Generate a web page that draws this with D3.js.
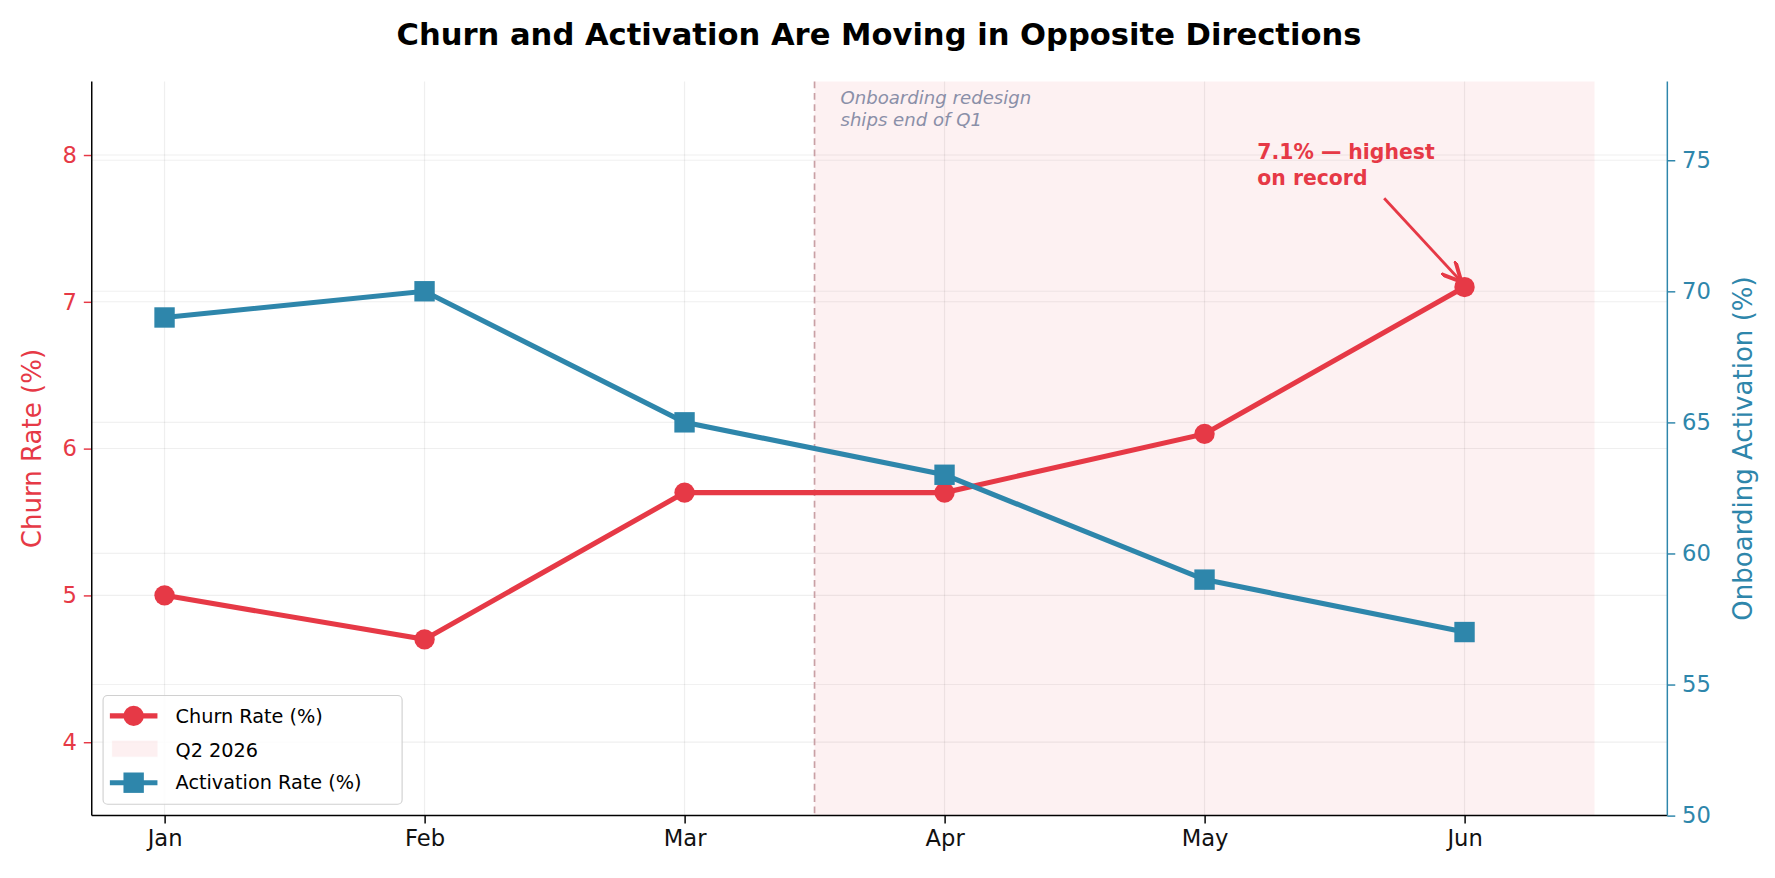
<!DOCTYPE html><html><head><meta charset="utf-8"><script src="https://cdn.jsdelivr.net/npm/d3@7"></script>
<style>body{margin:0;background:#fff;overflow:hidden}text{font-family:"DejaVu Sans",sans-serif}</style></head><body><svg id="c" width="1775" height="878"></svg>
<script>
const months=["Jan","Feb","Mar","Apr","May","Jun"];
const churn=[5.0,4.7,5.7,5.7,6.1,7.1];
const activation=[69,70,65,63,59,57];
const leftTicks=[4,5,6,7,8];
const rightTicks=[50,55,60,65,70,75];
const RED="#e63946",BLUE="#2e86ab";
const svg=d3.select("#c").append("g").attr("transform","scale(1.1327)");
const L=81,R=1472,T=72,B=720;
const x=d3.scaleLinear().domain([-0.28,5.78]).range([L,R]);
const yl=d3.scaleLinear().domain([3.5,8.5]).range([B,T]);
const yr=d3.scaleLinear().domain([50,78]).range([B,T]);
svg.append("rect").attr("x",x(2.5)).attr("y",T).attr("width",x(5.5)-x(2.5)).attr("height",B-T).attr("fill",RED).attr("opacity",0.07);
months.forEach((m,i)=>svg.append("line").attr("x1",x(i)).attr("x2",x(i)).attr("y1",T).attr("y2",B).attr("stroke","#000").attr("opacity",0.06));
leftTicks.forEach(v=>svg.append("line").attr("x1",L).attr("x2",R).attr("y1",yl(v)).attr("y2",yl(v)).attr("stroke","#000").attr("opacity",0.06));
rightTicks.forEach(v=>svg.append("line").attr("x1",L).attr("x2",R).attr("y1",yr(v)).attr("y2",yr(v)).attr("stroke","#000").attr("opacity",0.05));
svg.append("line").attr("x1",x(2.5)).attr("x2",x(2.5)).attr("y1",T).attr("y2",B).attr("stroke","#c9a0a5").attr("stroke-width",1.5).attr("stroke-dasharray","6,4");
const ax=svg.append("g").attr("transform",`translate(0,${B})`).call(d3.axisBottom(x).tickValues(d3.range(6)).tickFormat(i=>months[i]).tickSize(7).tickPadding(6));
const al=svg.append("g").attr("transform",`translate(${L},0)`).call(d3.axisLeft(yl).tickValues(leftTicks).tickFormat(d3.format("d")).tickSize(7).tickPadding(6));
const ar=svg.append("g").attr("transform",`translate(${R},0)`).call(d3.axisRight(yr).tickValues(rightTicks).tickFormat(d3.format("d")).tickSize(7).tickPadding(6));
[ax,al,ar].forEach(a=>{a.select(".domain").remove();a.selectAll("text").attr("font-size",20);a.selectAll("line").attr("stroke-width",1.3)});
al.selectAll("text").attr("fill",RED);al.selectAll("line").attr("stroke",RED);
ar.selectAll("text").attr("fill",BLUE);ar.selectAll("line").attr("stroke",BLUE);
ax.selectAll("text").attr("fill","#111");
svg.append("line").attr("x1",L).attr("x2",L).attr("y1",T).attr("y2",B).attr("stroke","#000").attr("stroke-width",1.3);
svg.append("line").attr("x1",L).attr("x2",R).attr("y1",B).attr("y2",B).attr("stroke","#000").attr("stroke-width",1.3);
svg.append("line").attr("x1",R).attr("x2",R).attr("y1",T).attr("y2",B).attr("stroke",BLUE).attr("stroke-width",1.3);
svg.append("path").attr("d",d3.line().x((d,i)=>x(i)).y(d=>yl(d))(churn)).attr("fill","none").attr("stroke",RED).attr("stroke-width",4.5);
svg.selectAll(".cp").data(churn).enter().append("circle").attr("cx",(d,i)=>x(i)).attr("cy",d=>yl(d)).attr("r",9).attr("fill",RED);
svg.append("path").attr("d",d3.line().x((d,i)=>x(i)).y(d=>yr(d))(activation)).attr("fill","none").attr("stroke",BLUE).attr("stroke-width",4.5);
svg.selectAll(".ap").data(activation).enter().append("rect").attr("x",(d,i)=>x(i)-9).attr("y",d=>yr(d)-9).attr("width",18).attr("height",18).attr("fill",BLUE);
svg.append("text").attr("x",776).attr("y",40).attr("text-anchor","middle").attr("font-size",27).attr("font-weight","bold").text("Churn and Activation Are Moving in Opposite Directions");
svg.append("text").attr("transform",`translate(36,${(T+B)/2}) rotate(-90)`).attr("text-anchor","middle").attr("font-size",23).attr("fill",RED).text("Churn Rate (%)");
svg.append("text").attr("transform",`translate(1547,${(T+B)/2}) rotate(-90)`).attr("text-anchor","middle").attr("font-size",23).attr("fill",BLUE).text("Onboarding Activation (%)");
svg.append("text").attr("x",742).attr("y",92).attr("font-size",16).attr("font-style","italic").attr("fill","#8a8fa8").text("Onboarding redesign");
svg.append("text").attr("x",742).attr("y",111).attr("font-size",16).attr("font-style","italic").attr("fill","#8a8fa8").text("ships end of Q1");
svg.append("text").attr("x",1110).attr("y",140).attr("font-size",18).attr("font-weight","bold").attr("fill",RED).text("7.1% — highest");
svg.append("text").attr("x",1110).attr("y",163).attr("font-size",18).attr("font-weight","bold").attr("fill",RED).text("on record");
d3.select("#c").append("defs").append("marker").attr("id","ah").attr("viewBox","0 0 10 10").attr("refX",9).attr("refY",5).attr("markerWidth",7).attr("markerHeight",7).attr("orient","auto").append("path").attr("d","M0,0 L10,5 L0,10").attr("fill","none").attr("stroke",RED).attr("stroke-width",2);
svg.append("line").attr("x1",1222).attr("y1",175).attr("x2",x(5)-4).attr("y2",yl(7.1)-6).attr("stroke",RED).attr("stroke-width",2.5).attr("marker-end","url(#ah)");
const lg=svg.append("g");
lg.append("rect").attr("x",91).attr("y",614).attr("width",264).attr("height",96).attr("rx",4).attr("fill","#fff").attr("stroke","#ccc").attr("opacity",0.9);
lg.append("line").attr("x1",97).attr("x2",139).attr("y1",632).attr("y2",632).attr("stroke",RED).attr("stroke-width",4.5);
lg.append("circle").attr("cx",118).attr("cy",632).attr("r",9).attr("fill",RED);
lg.append("rect").attr("x",99).attr("y",654).attr("width",40).attr("height",14).attr("fill",RED).attr("opacity",0.07).attr("stroke",RED).attr("stroke-opacity",0.1);
lg.append("line").attr("x1",97).attr("x2",139).attr("y1",691).attr("y2",691).attr("stroke",BLUE).attr("stroke-width",4.5);
lg.append("rect").attr("x",109).attr("y",682).attr("width",18).attr("height",18).attr("fill",BLUE);
[["Churn Rate (%)",638],["Q2 2026",668],["Activation Rate (%)",697]].forEach(([t,y])=>lg.append("text").attr("x",155).attr("y",y).attr("font-size",17).text(t));
</script></body></html>
